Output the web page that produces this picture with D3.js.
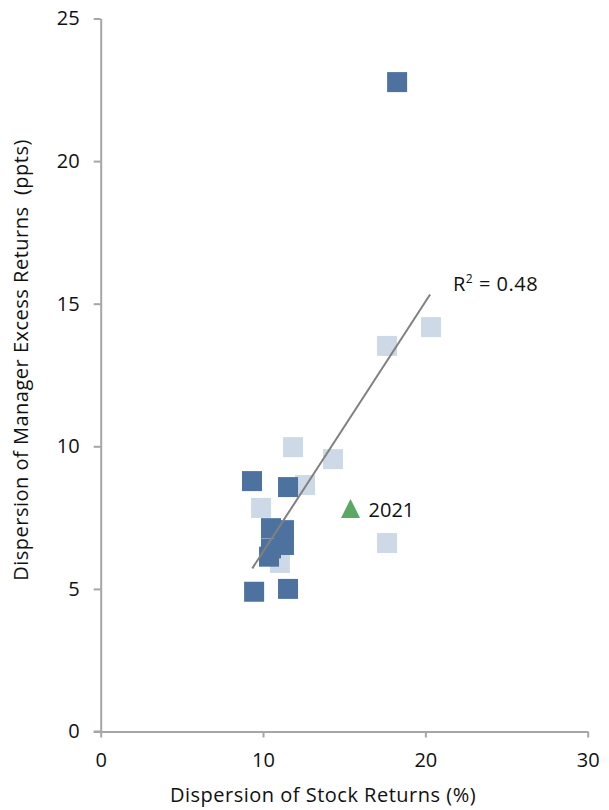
<!DOCTYPE html>
<html>
<head>
<meta charset="utf-8">
<script src="https://cdn.jsdelivr.net/npm/d3@7"></script>
<style>
  html, body { margin: 0; padding: 0; background: #fff; }
  svg { display: block; font-family: "Open Sans", "Noto Sans", sans-serif; }
</style>
</head>
<body>
<svg id="chart" width="609" height="810"></svg>
<script>
// Dispersion of stock returns (%) vs dispersion of manager excess returns (ppts)
const darkX = [18.26, 9.32, 11.54, 9.45, 11.54, 10.49, 11.29, 11.29, 10.49, 10.37];
const darkY = [22.77, 8.78, 8.57, 4.90, 5.00, 7.13, 7.06, 6.54, 6.42, 6.13];
const lightX = [11.85, 14.31, 12.59, 9.88, 11.04, 17.64, 20.35, 17.64];
const lightY = [9.97, 9.55, 8.64, 7.84, 5.91, 13.52, 14.18, 6.61];
const currentX = [15.39];
const currentY = [7.82];
const currentLabel = ["2021"];
// linear fit shown as a segment
const trendRange = [9.34, 20.29];
const trendSlope = 0.877;
const trendIntercept = -2.47;
const rSquared = "0.48";
const xTicks = [0, 10, 20, 30];
const yTicks = [0, 5, 10, 15, 20, 25];

const svg = d3.select("#chart");
const x = d3.scaleLinear().domain([0, 30]).range([100.7, 587.7]);
const y = d3.scaleLinear().domain([0, 25]).range([731.5, 18.5]);
const axisColor = "#a6a6a6";
const markSize = 20;
const fontSize = "20px";
const spacing = "0.5px";

// axes
const xAxis = svg.append("g")
  .attr("transform", `translate(0,${y(0)})`)
  .call(d3.axisBottom(x).tickValues(xTicks).tickSize(6).tickPadding(15).tickSizeOuter(0));
const yAxis = svg.append("g")
  .attr("transform", `translate(${x(0)},0)`)
  .call(d3.axisLeft(y).tickValues(yTicks).tickSize(7).tickPadding(14).tickSizeOuter(0));
[xAxis, yAxis].forEach(g => {
  g.select(".domain").attr("stroke", axisColor).attr("stroke-width", 2);
  g.selectAll(".tick line").attr("stroke", axisColor).attr("stroke-width", 2);
  g.selectAll(".tick text").attr("fill", "#111").style("font-size", fontSize)
    .style("font-family", "'Open Sans', 'Noto Sans', sans-serif");
});
// x axis line runs a little past the y axis
svg.append("line")
  .attr("x1", x(0) - 7).attr("x2", x(0))
  .attr("y1", y(0)).attr("y2", y(0))
  .attr("stroke", axisColor).attr("stroke-width", 2);

// axis titles
svg.append("text")
  .attr("x", 323).attr("y", 802)
  .attr("text-anchor", "middle")
  .style("font-size", fontSize).style("letter-spacing", spacing).attr("fill", "#111")
  .text("Dispersion of Stock Returns (%)");
svg.append("text")
  .attr("transform", "translate(28,360) rotate(-90)")
  .attr("text-anchor", "middle")
  .style("font-size", fontSize).style("letter-spacing", spacing)
  .style("white-space", "pre").attr("fill", "#111")
  .text("Dispersion of Manager Excess Returns  (ppts)");

// light markers
svg.append("g").selectAll("rect")
  .data(d3.zip(lightX, lightY))
  .join("rect")
  .attr("x", d => x(d[0]) - markSize / 2)
  .attr("y", d => y(d[1]) - markSize / 2)
  .attr("width", markSize).attr("height", markSize)
  .attr("fill", "#cdd9e6");

// dark markers
svg.append("g").selectAll("rect")
  .data(d3.zip(darkX, darkY))
  .join("rect")
  .attr("x", d => x(d[0]) - markSize / 2)
  .attr("y", d => y(d[1]) - markSize / 2)
  .attr("width", markSize).attr("height", markSize)
  .attr("fill", "#4e729f");

// current year
const cur = d3.zip(currentX, currentY, currentLabel);
svg.append("g").selectAll("path")
  .data(cur)
  .join("path")
  .attr("d", d => {
    const cx = x(d[0]), cy = y(d[1]), h = 19;
    return `M${cx},${cy - h / 2}L${cx + h / 2},${cy + h / 2}L${cx - h / 2},${cy + h / 2}Z`;
  })
  .attr("fill", "#5ba865");
svg.append("g").selectAll("text")
  .data(cur)
  .join("text")
  .attr("x", d => x(d[0]) + 18)
  .attr("y", d => y(d[1]) + 9)
  .style("font-size", fontSize).attr("fill", "#111")
  .text(d => d[2]);

// trend line
svg.append("line")
  .attr("x1", x(trendRange[0])).attr("y1", y(trendIntercept + trendSlope * trendRange[0]))
  .attr("x2", x(trendRange[1])).attr("y2", y(trendIntercept + trendSlope * trendRange[1]))
  .attr("stroke", "#808080").attr("stroke-width", 2);

const r2 = svg.append("text")
  .attr("x", 453).attr("y", 291)
  .style("font-size", fontSize).style("letter-spacing", spacing).attr("fill", "#111");
r2.append("tspan").text("R");
r2.append("tspan").attr("dy", -8).style("font-size", "12px").text("2");
r2.append("tspan").attr("dy", 8).text(` = ${rSquared}`);
</script>
</body>
</html>
